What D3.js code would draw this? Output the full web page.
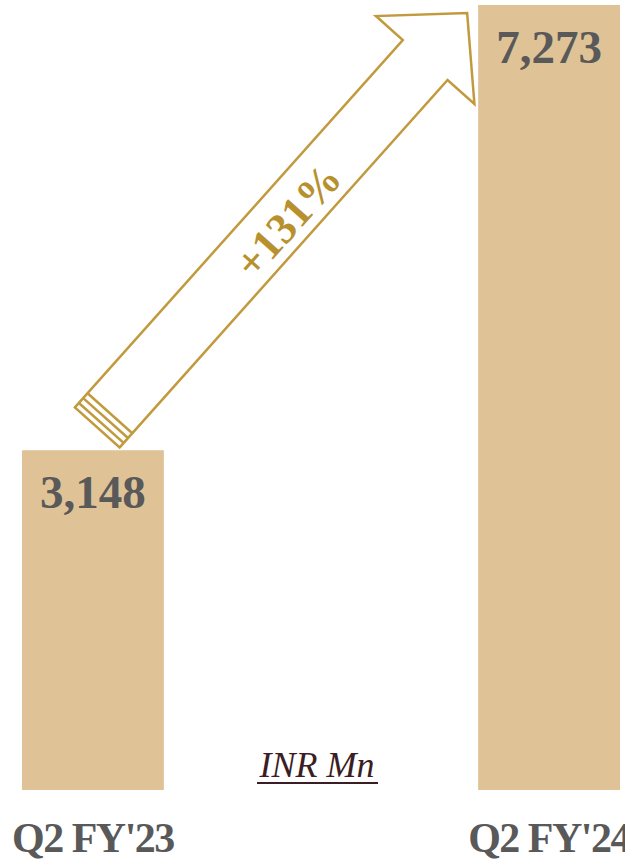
<!DOCTYPE html>
<html>
<head>
<meta charset="utf-8">
<script src="https://cdn.jsdelivr.net/npm/d3@7"></script>
<style>
  body { margin: 0; background: #fff; }
  svg { display: block; }
</style>
</head>
<body>
<script>
// Data
var categories = ["Q2 FY'23", "Q2 FY'24"];
var values = [3148, 7273];
var growthLabel = "+131%";
var unitLabel = "INR Mn";

var width = 625, height = 862;
var barColor = "#dfc396",
    gold = "#c29a3e",
    labelGray = "#595959";

var svg = d3.select("body").append("svg")
    .attr("width", width)
    .attr("height", height);

// Scales
var x = d3.scaleBand()
    .domain(categories)
    .range([22, 620])
    .paddingInner(0.689)
    .paddingOuter(0);
var y = d3.scaleLinear()
    .domain([0, d3.max(values)])
    .range([790, 5]);

var data = categories.map(function (c, i) { return { cat: c, val: values[i] }; });

// Bars
svg.selectAll("rect.bar")
    .data(data)
    .enter().append("rect")
    .attr("class", "bar")
    .attr("x", function (d) { return x(d.cat); })
    .attr("y", function (d) { return y(d.val); })
    .attr("width", x.bandwidth())
    .attr("height", function (d) { return y(0) - y(d.val); })
    .attr("fill", barColor);

// Value labels
svg.selectAll("text.val")
    .data(data)
    .enter().append("text")
    .attr("class", "val")
    .attr("x", function (d) { return x(d.cat) + x.bandwidth() / 2; })
    .attr("y", function (d) { return y(d.val) + 58; })
    .attr("text-anchor", "middle")
    .attr("font-family", "'Liberation Serif', serif")
    .attr("font-weight", "bold")
    .attr("font-size", 47)
    .attr("fill", labelGray)
    .text(function (d) { return d3.format(",")(d.val); });

// Category labels
svg.selectAll("text.cat")
    .data(data)
    .enter().append("text")
    .attr("class", "cat")
    .attr("x", function (d) { return x(d.cat) + x.bandwidth() / 2; })
    .attr("y", 852)
    .attr("text-anchor", "middle")
    .attr("font-family", "'Liberation Serif', serif")
    .attr("font-weight", "bold")
    .attr("font-size", 42)
    .attr("letter-spacing", -1.5)
    .attr("fill", labelGray)
    .text(function (d) { return d.cat; });

// Unit label
svg.append("text")
    .attr("x", 317)
    .attr("y", 777)
    .attr("text-anchor", "middle")
    .attr("font-family", "'Liberation Serif', serif")
    .attr("font-style", "italic")
    .attr("font-size", 36)
    .attr("fill", "#3b1d24")
    .text(unitLabel);
svg.append("line")
    .attr("x1", 257).attr("x2", 378)
    .attr("y1", 783).attr("y2", 783)
    .attr("stroke", "#3b1d24")
    .attr("stroke-width", 2);

// Growth arrow, anchored to the two bars
var start = [x(categories[0]) + x.bandwidth() / 2 + 17, y(values[0]) - 37];
var tip = [x(categories[1]) - 11, y(values[1]) + 8];
var dx = tip[0] - start[0], dy = tip[1] - start[1];
var len = Math.sqrt(dx * dx + dy * dy);
var ux = dx / len, uy = dy / len;      // along the arrow
var px = -uy, py = ux;                  // perpendicular
function pt(t, s) { return [start[0] + ux * t + px * s, start[1] + uy * t + py * s]; }

var half = 30, barb = 66, headLen = 63, tail = 19;
var base = len - headLen;
var outline = [
    pt(-tail, -half), pt(base, -half), pt(base, -barb), pt(len, 0),
    pt(base, barb), pt(base, half), pt(-tail, half)
];
svg.append("path")
    .attr("d", d3.line()(outline) + "Z")
    .attr("fill", "#fff")
    .attr("stroke", gold)
    .attr("stroke-width", 2.5)
    .attr("stroke-linejoin", "miter");

// stripes at the tail
[0, -6.5, -13].forEach(function (t) {
    var a = pt(t, -half), b = pt(t, half);
    svg.append("line")
        .attr("x1", a[0]).attr("y1", a[1])
        .attr("x2", b[0]).attr("y2", b[1])
        .attr("stroke", gold)
        .attr("stroke-width", 2.5);
});

// growth label along the arrow
var angle = Math.atan2(uy, ux) * 180 / Math.PI;
var lp = pt(262, 4);
svg.append("text")
    .attr("transform", "translate(" + lp[0] + "," + lp[1] + ") rotate(" + angle + ")")
    .attr("text-anchor", "middle")
    .attr("dy", "0.35em")
    .attr("font-family", "'Liberation Serif', serif")
    .attr("font-weight", "bold")
    .attr("font-size", 44)
    .attr("fill", "#b8912f")
    .text(growthLabel);
</script>
</body>
</html>
